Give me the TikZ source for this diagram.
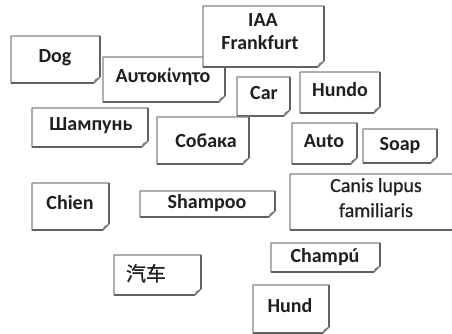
\documentclass[tikz,border=0pt]{standalone}
\usepackage{fontspec}
\setmainfont{Carlito}
\newfontfamily\cjk{Noto Sans CJK SC}[FakeBold=0.8]
\newfontfamily\latinmedium{Carlito}[FakeBold=0.6]
\usetikzlibrary{fit}

\newlength\foldsize
\setlength\foldsize{6pt}

\tikzset{
  notearea/.style={inner sep=0pt, outer sep=0pt, draw=none},
  noteedge/.style={draw=black!48, line width=1.2pt, fill=white, line join=round},
  noteshade/.style={draw=black!62, line width=1.2pt, line join=round},
  noteflap/.style={fill=black!45, draw=black!55, line width=0.5pt},
  word/.style={anchor=base, inner sep=0pt, text=black!88,
               font=\fontsize{20}{24}\selectfont\bfseries},
  plainword/.style={word, font=\fontsize{20}{24}\selectfont\latinmedium},
}

% a card with its lower right corner turned up: name, left, top, right, bottom
\newcommand\foldnote[5]{%
  \node[notearea, fit={(#2,#3) (#4,#5)}] (#1) {};
  \draw[noteedge] (#1.north west) -- (#1.north east)
    -- ([yshift=\foldsize]#1.south east)
    -- ([xshift=-\foldsize]#1.south east)
    -- (#1.south west) -- cycle;
  \draw[noteshade] (#1.north east) -- ([yshift=\foldsize]#1.south east)
    ([xshift=-\foldsize]#1.south east) -- (#1.south west);
  \filldraw[noteflap] ([yshift=\foldsize]#1.south east)
    .. controls ([xshift=-0.5\foldsize,yshift=0.8\foldsize]#1.south east)
    .. ([xshift=-0.8\foldsize,yshift=0.55\foldsize]#1.south east)
    -- ([xshift=-\foldsize]#1.south east) -- cycle;
}

\begin{document}
\begin{tikzpicture}[x=1pt, y=-1pt]
  \useasboundingbox (0,0) rectangle (452,334);
  \clip (0,0) rectangle (452,334);

  \foldnote{dog}{11}{36}{100}{83}
  \node[word] (dog-t) at (55,63) {Dog};

  \foldnote{greek}{103}{57}{225}{102}
  \node[word] (greek-t) at (163,83) {Αυτοκίνητο};

  \foldnote{iaa}{203}{6}{324}{67}
  \node[word] (iaa-t1) at (263,27) {IAA};
  \node[word] (iaa-t2) at (260,50) {Frankfurt};

  \foldnote{car}{237}{77}{290}{116}
  \node[word] (car-t) at (264,100) {Car};

  \foldnote{hundo}{300}{72}{380}{113}
  \node[word] (hundo-t) at (340,97) {Hundo};

  \foldnote{shampun}{32}{108}{148}{147}
  \node[word] (shampun-t) at (91,131) {Шампунь};

  \foldnote{sobaka}{157}{117}{249}{164}
  \node[word] (sobaka-t) at (206,147) {Собака};

  \foldnote{auto}{292}{123}{357}{164}
  \node[word] (auto-t) at (324,147) {Auto};

  \foldnote{soap}{363}{129}{437}{163}
  \node[word] (soap-t) at (400,150) {Soap};

  \foldnote{chien}{32}{183}{109}{230}
  \node[word] (chien-t) at (70,209) {Chien};

  \foldnote{shampoo}{140}{191}{275}{217}
  \node[word] (shampoo-t) at (207,208) {Shampoo};

  \foldnote{canis}{290}{174}{470}{230}
  \node[plainword] (canis-t1) at (376,192) {Canis lupus};
  \node[plainword] (canis-t2) at (376,217) {familiaris};

  \foldnote{champu}{271}{243}{380}{272}
  \node[word] (champu-t) at (325,262) {Champú};

  \foldnote{qiche}{114}{255}{201}{295}
  \node[word, font=\fontsize{20}{24}\selectfont\cjk] (qiche-t) at (146,281) {汽车};

  \foldnote{hund}{253}{285}{329}{333}
  \node[word] (hund-t) at (290,312) {Hund};
\end{tikzpicture}
\end{document}
